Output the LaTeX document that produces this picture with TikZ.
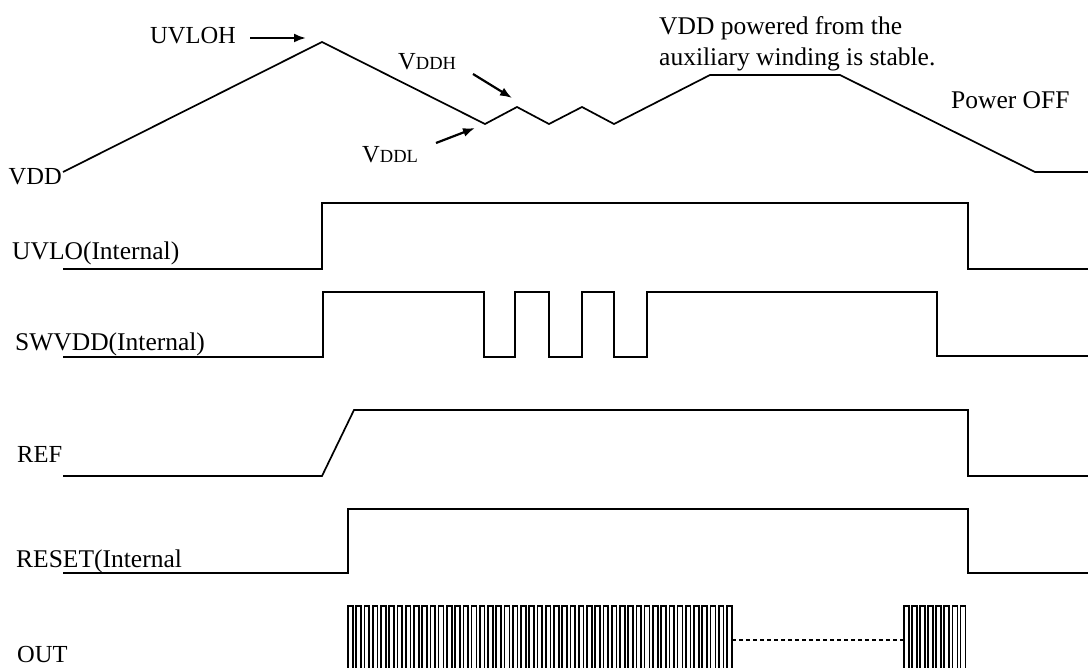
\documentclass[tikz,border=0pt]{standalone}
\usepackage{fontspec}
\setmainfont{Liberation Serif}
\usetikzlibrary{arrows.meta}
\newcommand\smc[1]{{\fontsize{18.5}{20}\selectfont #1}}
\begin{document}
\begin{tikzpicture}[x=1pt,y=-1pt,
  wave/.style={line width=1.7pt, line join=miter},
  lbl/.style={inner sep=0pt, font=\fontsize{25.5}{30}\selectfont},
  caplbl/.style={inner sep=0pt, font=\fontsize{24.5}{28}\selectfont},
  pointer/.style={line width=2.2pt, -{Latex[length=12pt,width=9pt]}},
  dashline/.style={line width=1.4pt, dash pattern=on 4pt off 3pt},
]
\useasboundingbox (0,0) rectangle (1088,668);

% labels
\node[caplbl, anchor=base east] (lvdd) at (62,185) {VDD};
\node[lbl, anchor=base west] (luvlo) at (12,260) {UVLO(Internal)};
\node[lbl, anchor=base west] (lsw) at (15,351) {SWVDD(Internal)};
\node[caplbl, anchor=base west] (lref) at (17,462) {REF};
\node[lbl, anchor=base west] (lrst) at (16,567) {RESET(Internal};
\node[caplbl, anchor=base west] (lout) at (17,662) {OUT};
\node[caplbl, anchor=base west] (luvloh) at (150,44) {UVLOH};
\node[caplbl, anchor=base west] (lvddh) at (398,70) {V\smc{DDH}};
\node[caplbl, anchor=base west] (lvddl) at (362,163) {V\smc{DDL}};
\node[lbl, anchor=base west] (lstab1) at (659,35) {VDD powered from the};
\node[lbl, anchor=base west] (lstab2) at (659,66) {auxiliary winding is stable.};
\node[lbl, anchor=base west] (loff) at (951,109) {Power OFF};

% pointer arrows
\coordinate (a1s) at (250,38); \coordinate (a1e) at (306,38);
\coordinate (a2s) at (473,74); \coordinate (a2e) at (512,98);
\coordinate (a3s) at (436,143); \coordinate (a3e) at (475,128);
\draw[pointer] (a1s) -- (a1e);
\draw[pointer] (a2s) -- (a2e);
\draw[pointer] (a3s) -- (a3e);

% VDD
\draw[wave] (63,172) -- (322,42) -- (485,124) -- (517,107) -- (549,124)
  -- (582,107) -- (614,124) -- (710,75) -- (840,75) -- (1035,172) -- (1088,172);

% UVLO
\draw[wave] (63,269) -- (322,269) -- (322,203) -- (968,203) -- (968,269) -- (1088,269);

% SWVDD
\draw[wave] (63,357) -- (323,357) -- (323,292) -- (484,292) -- (484,357)
  -- (515,357) -- (515,292) -- (549,292) -- (549,357) -- (582,357) -- (582,292)
  -- (614,292) -- (614,357) -- (647,357) -- (647,292) -- (937,292) -- (937,356) -- (1088,356);

% REF
\draw[wave] (63,476) -- (322,476) -- (354,410) -- (968,410) -- (968,476) -- (1088,476);

% RESET
\draw[wave] (63,573) -- (348,573) -- (348,509) -- (968,509) -- (968,573) -- (1088,573);

% OUT
\foreach \i in {0,...,46}{
  \pgfmathsetmacro\xa{348+\i*8.24}
  \pgfmathsetmacro\xb{\xa+4.8}
  \draw[wave] (\xa,668) |- (\xb,606) -- (\xb,668);
}
\foreach \i in {0,...,7}{
  \pgfmathsetmacro\xa{904+\i*8.06}
  \pgfmathsetmacro\xb{\xa+5}
  \draw[wave] (\xa,668) |- (\xb,606) -- (\xb,668);
}
\coordinate (d1) at (732,640); \coordinate (d2) at (904,640);
\draw[dashline] (d1) -- (d2);
\end{tikzpicture}
\end{document}
